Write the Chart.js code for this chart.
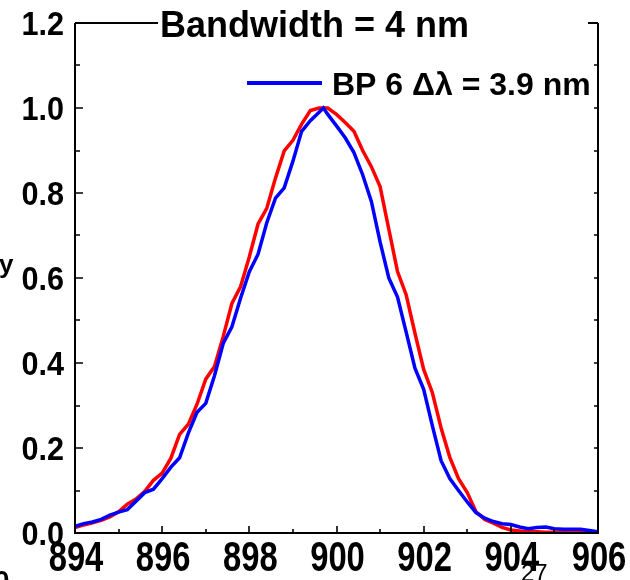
<!DOCTYPE html>
<html>
<head>
<meta charset="utf-8">
<script src="https://cdn.jsdelivr.net/npm/chart.js@4/dist/chart.umd.min.js"></script>
<style>
  html, body { margin: 0; padding: 0; background: #fff; overflow: hidden; }
  canvas { display: block; }
</style>
</head>
<body>
<canvas id="c" width="630" height="580"></canvas>
<script>
// Wavelength grid (nm)
const wavelength = [
  894.0, 894.2, 894.4, 894.6, 894.8, 895.0, 895.2, 895.4, 895.6, 895.8,
  896.0, 896.2, 896.4, 896.6, 896.8, 897.0, 897.2, 897.4, 897.6, 897.8,
  898.0, 898.2, 898.4, 898.6, 898.8, 899.0, 899.2, 899.4, 899.6, 899.7,
  899.8, 900.0, 900.2, 900.4, 900.6, 900.8, 901.0, 901.2, 901.4, 901.6,
  901.8, 902.0, 902.2, 902.4, 902.6, 902.8, 903.0, 903.2, 903.4, 903.6,
  903.8, 904.0, 904.2, 904.4, 904.6, 904.8, 905.0, 905.2, 905.4, 905.6,
  905.8, 906.0
];

// Measured band-pass filter BP 6 (normalised)
const bp6 = [
  0.016, 0.022, 0.026, 0.032, 0.042, 0.049, 0.055, 0.075, 0.095, 0.103,
  0.128, 0.155, 0.177, 0.235, 0.284, 0.305, 0.370, 0.446, 0.485, 0.553,
  0.615, 0.656, 0.730, 0.788, 0.812, 0.875, 0.945, 0.970, 0.990, 1.000,
  0.985, 0.958, 0.930, 0.895, 0.843, 0.780, 0.685, 0.600, 0.555, 0.472,
  0.388, 0.338, 0.252, 0.170, 0.128, 0.100, 0.073, 0.048, 0.035, 0.027,
  0.022, 0.020, 0.014, 0.010, 0.013, 0.014, 0.010, 0.009, 0.009, 0.009,
  0.006, 0.003
];

// Nominal 4 nm bandwidth profile (normalised)
const nominal = [
  0.013, 0.019, 0.024, 0.030, 0.038, 0.050, 0.068, 0.080, 0.098, 0.124,
  0.141, 0.176, 0.232, 0.256, 0.303, 0.362, 0.392, 0.462, 0.540, 0.580,
  0.650, 0.727, 0.764, 0.835, 0.899, 0.924, 0.962, 0.994, 1.000, 1.000,
  1.000, 0.985, 0.966, 0.945, 0.900, 0.862, 0.815, 0.715, 0.615, 0.560,
  0.470, 0.385, 0.330, 0.247, 0.178, 0.128, 0.095, 0.050, 0.032, 0.023,
  0.013, 0.007, 0.005, 0.003, 0.003, 0.002, 0.002, 0.002, 0.002, 0.002,
  0.002, 0.002
];

const xTickValues = [894, 896, 898, 900, 902, 904, 906];
const yTickValues = [0.0, 0.2, 0.4, 0.6, 0.8, 1.0, 1.2];

const titleText = 'Bandwidth = 4 nm';
const legendText = 'BP 6 \u0394\u03bb = 3.9 nm';

const FONT = "'Liberation Sans', Arial, Helvetica, sans-serif";

const toPoints = (ys) => wavelength.map((w, i) => ({ x: w, y: ys[i] }));

// Axis frame with inward major/minor ticks, tick labels, title and legend
const decorations = {
  id: 'decorations',
  afterDatasetsDraw(chart) {
    const { ctx, chartArea: a, scales: { x, y } } = chart;
    ctx.save();
    ctx.strokeStyle = '#000';
    ctx.lineWidth = 2;
    ctx.beginPath();
    ctx.moveTo(a.left, a.top);
    ctx.lineTo(a.left, a.bottom);
    ctx.lineTo(a.right, a.bottom);
    ctx.lineTo(a.right, a.top);
    ctx.moveTo(a.left, a.top);
    ctx.lineTo(158, a.top);
    ctx.moveTo(588, a.top);
    ctx.lineTo(a.right, a.top);
    ctx.stroke();

    ctx.lineWidth = 1.6;
    ctx.beginPath();
    for (let v = x.min; v <= x.max + 1e-6; v += 1) {
      const px = Math.round(x.getPixelForValue(v));
      const major = Math.round(v) % 2 === 0;
      ctx.moveTo(px, a.bottom);
      ctx.lineTo(px, a.bottom - (major ? 7 : 4));
    }
    for (let k = 0; k <= 12; k++) {
      const v = k / 10;
      const py = Math.round(y.getPixelForValue(v));
      const major = k % 2 === 0;
      ctx.moveTo(a.left, py);
      ctx.lineTo(a.left + (major ? 8 : 5), py);
      ctx.moveTo(a.right, py);
      ctx.lineTo(a.right - 4, py);
    }
    ctx.stroke();
    ctx.restore();
  },
  afterDraw(chart) {
    const { ctx, chartArea: a, scales: { x, y } } = chart;
    ctx.save();
    ctx.fillStyle = '#000';
    ctx.textBaseline = 'alphabetic';

    // x tick labels: tall, narrow digits
    ctx.font = 'bold 42px ' + FONT;
    ctx.textAlign = 'center';
    xTickValues.forEach(v => {
      const px = x.getPixelForValue(v);
      ctx.save();
      ctx.translate(px + 1, 571);
      ctx.scale(0.78, 1);
      ctx.fillText(String(v), 0, 0);
      ctx.restore();
    });

    // y tick labels, right aligned against the axis
    ctx.font = 'bold 34px ' + FONT;
    ctx.textAlign = 'right';
    yTickValues.forEach(v => {
      const py = y.getPixelForValue(v);
      ctx.save();
      ctx.translate(64, py + 12);
      ctx.scale(0.9, 1);
      ctx.fillText(v.toFixed(1), 0, 0);
      ctx.restore();
    });

    // title over the top frame
    ctx.textAlign = 'left';
    ctx.font = 'bold 36px ' + FONT;
    ctx.fillText(titleText, 160, 37);

    // legend entry
    const ds = chart.data.datasets[0];
    ctx.strokeStyle = ds.borderColor;
    ctx.lineWidth = 4;
    ctx.beginPath();
    ctx.moveTo(247, 83);
    ctx.lineTo(322, 83);
    ctx.stroke();
    ctx.font = 'bold 32px ' + FONT;
    ctx.fillText(legendText, 332, 95);

    // partly visible surrounding text
    ctx.font = 'bold 26px ' + FONT;
    ctx.fillText('y', -1, 273);
    ctx.font = 'bold 28px ' + FONT;
    ctx.fillText('0', -6, 590);
    ctx.font = '24px ' + FONT;
    ctx.fillText('27', 521, 581);
    ctx.restore();
  }
};

new Chart(document.getElementById('c'), {
  type: 'line',
  data: {
    datasets: [
      {
        label: 'BP 6',
        data: toPoints(bp6),
        borderColor: '#0000ff',
        borderWidth: 3.5,
        pointRadius: 0,
        tension: 0,
        fill: false
      },
      {
        label: 'Bandwidth = 4 nm',
        data: toPoints(nominal),
        borderColor: '#ff0000',
        borderWidth: 3.5,
        pointRadius: 0,
        tension: 0,
        fill: false
      }
    ]
  },
  options: {
    responsive: false,
    animation: false,
    devicePixelRatio: 1,
    layout: { padding: { top: 23, right: 32, left: 0, bottom: 0 } },
    plugins: { legend: { display: false }, title: { display: false }, tooltip: { enabled: false } },
    scales: {
      x: {
        type: 'linear',
        min: 894,
        max: 906,
        grid: { display: false, drawTicks: false },
        border: { display: false },
        ticks: { display: false },
        afterFit(scale) { scale.height = 47; }
      },
      y: {
        type: 'linear',
        min: 0,
        max: 1.2,
        grid: { display: false, drawTicks: false },
        border: { display: false },
        ticks: { display: false },
        afterFit(scale) { scale.width = 75; }
      }
    }
  },
  plugins: [decorations]
});
</script>
</body>
</html>
